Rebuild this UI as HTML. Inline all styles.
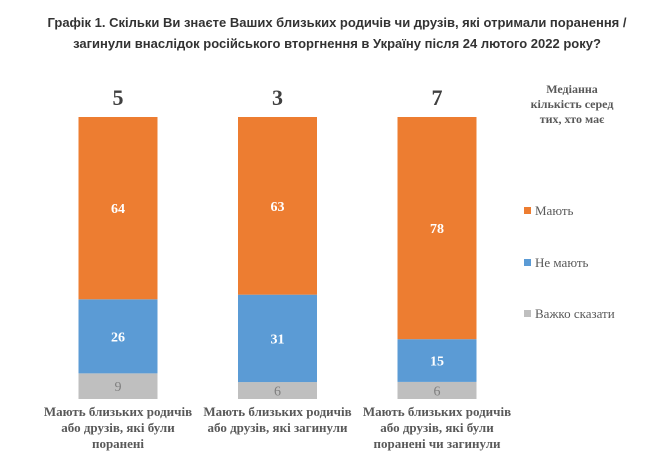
<!DOCTYPE html>
<html><head><meta charset="utf-8"><style>
body{margin:0;background:#fff;width:667px;height:472px;overflow:hidden}
svg{display:block}
.t{font-family:"Liberation Sans",sans-serif;font-weight:bold;font-size:13px;fill:#333}
.s{font-family:"Liberation Serif",serif}
</style></head><body>
<svg id="c" width="667" height="472">
<text class="t" x="337" y="27" text-anchor="middle">Графік 1. Скільки Ви знаєте Ваших близьких родичів чи друзів, які отримали поранення /</text>
<text class="t" x="337" y="48" text-anchor="middle">загинули внаслідок російського вторгнення в Україну після 24 лютого 2022 року?</text>
<g class="s" font-size="12" font-weight="bold" fill="#595959" text-anchor="middle">
<text x="572" y="93">Медіанна</text><text x="572" y="108">кількість серед</text><text x="572" y="123">тих, хто має</text></g>
<g id="bars"></g>
<g id="legend"></g>
</svg>
<script>
const categories=[["Мають близьких родичів","або друзів, які були","поранені"],["Мають близьких родичів","або друзів, які загинули"],["Мають близьких родичів","або друзів, які були","поранені чи загинули"]];
const medians=[5,3,7];
const have=[64,63,78];
const notHave=[26,31,15];
const hard=[9,6,6];
const seriesNames=["Мають","Не мають","Важко сказати"];
const colors=["#ed7d31","#5b9bd5","#bfbfbf"];
const NS="http://www.w3.org/2000/svg";
const baseY=399, fullH=282, barW=79;
const xc=i=>118+i*159.5;
function mk(tag,attrs,parent){const e=document.createElementNS(NS,tag);for(const a in attrs)e.setAttribute(a,attrs[a]);parent.appendChild(e);return e;}
const g=document.getElementById('bars');
categories.forEach((cat,i)=>{
  const vals=[hard[i],notHave[i],have[i]];const cols=[colors[2],colors[1],colors[0]];
  const k=fullH/(vals[0]+vals[1]+vals[2]);
  const y=v=>baseY-v*k;
  let acc=0;
  vals.forEach((v,j)=>{
    const r=mk('rect',{x:xc(i)-barW/2,y:y(acc+v),width:barW,height:v*k,fill:cols[j]},g);
    
    
    const t=mk('text',{x:xc(i),y:y(acc+v/2)+5,'text-anchor':'middle','font-family':'Liberation Serif, serif','font-size':'14','font-weight':j==0?'normal':'bold',fill:j==0?'#7f7f7f':'#fff'},g);
    t.textContent=v;
    
    
    acc+=v;
  });
  const m=mk('text',{x:xc(i),y:105,'text-anchor':'middle','font-family':'Liberation Serif, serif','font-size':'22','font-weight':'bold',fill:'#404040'},g);
  m.textContent=medians[i];
  
  
  cat.forEach((line,l)=>{
    const c=mk('text',{x:xc(i),y:416+l*16,'text-anchor':'middle','font-family':'Liberation Serif, serif','font-size':'13','font-weight':'bold',fill:'#595959'},g);
    c.textContent=line;
    
    
  });
});
const lg=document.getElementById('legend');
const ly=[211,263,314];
seriesNames.forEach((n,i)=>{
  const r=mk('rect',{x:524,y:ly[i]-4,width:7,height:7,fill:colors[i]},lg);
  
  
  const t=mk('text',{x:535,y:ly[i]+4,'font-family':'Liberation Serif, serif','font-size':'13',fill:'#595959'},lg);
  t.textContent=n;
  
  
});
</script>
</body></html>
